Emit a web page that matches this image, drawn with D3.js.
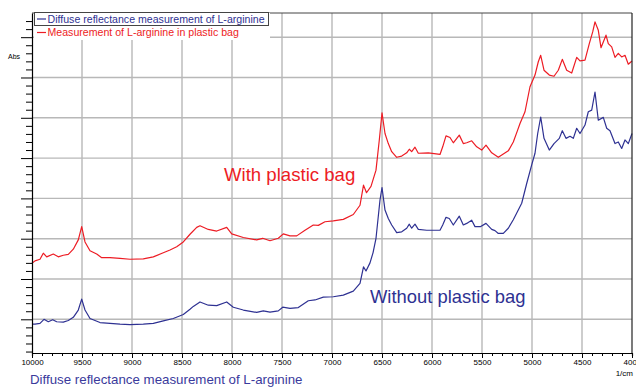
<!DOCTYPE html>
<html>
<head>
<meta charset="utf-8">
<script src="https://cdn.jsdelivr.net/npm/d3@7"></script>
<style>
  html, body { margin: 0; padding: 0; background: #fff; }
  svg { display: block; font-family: "Liberation Sans", Arial, sans-serif; }
</style>
</head>
<body>
<svg id="chart" width="636" height="387"></svg>
<script>
// NIR spectra of L-arginine: [wavenumber (1/cm), absorbance]
const withoutBag = [
  [10000,0.188],[9970,0.188],[9920,0.190],[9880,0.200],[9837,0.194],[9793,0.199],[9753,0.194],
  [9687,0.193],[9637,0.197],[9587,0.205],[9537,0.223],[9503,0.250],[9470,0.223],[9420,0.202],
  [9370,0.197],[9320,0.192],[9220,0.190],[9120,0.188],[9020,0.187],[8887,0.188],[8787,0.190],
  [8687,0.196],[8587,0.202],[8487,0.212],[8420,0.225],[8387,0.232],[8320,0.243],[8237,0.235],
  [8153,0.234],[8053,0.243],[7987,0.230],[7887,0.223],[7753,0.217],[7687,0.221],[7620,0.218],
  [7537,0.221],[7493,0.230],[7420,0.227],[7337,0.229],[7237,0.246],[7170,0.248],[7087,0.255],
  [6987,0.256],[6887,0.260],[6787,0.270],[6720,0.289],[6685,0.330],[6660,0.320],[6620,0.340],
  [6590,0.365],[6560,0.401],[6520,0.496],[6500,0.527],[6470,0.471],[6437,0.450],[6403,0.434],
  [6353,0.415],[6303,0.417],[6253,0.426],[6227,0.436],[6203,0.426],[6170,0.436],[6137,0.423],
  [6053,0.421],[5920,0.421],[5893,0.434],[5860,0.453],[5827,0.450],[5787,0.434],[5727,0.456],
  [5687,0.434],[5653,0.438],[5603,0.446],[5570,0.430],[5513,0.430],[5460,0.438],[5403,0.423],
  [5370,0.420],[5337,0.413],[5287,0.413],[5237,0.426],[5187,0.447],[5150,0.465],[5103,0.488],
  [5053,0.537],[5003,0.583],[4970,0.612],[4943,0.661],[4913,0.702],[4880,0.649],[4827,0.620],
  [4780,0.636],[4727,0.649],[4697,0.668],[4660,0.649],[4620,0.654],[4587,0.649],[4553,0.674],
  [4520,0.661],[4470,0.682],[4437,0.715],[4403,0.719],[4370,0.764],[4337,0.694],[4287,0.701],
  [4253,0.674],[4220,0.668],[4170,0.636],[4137,0.640],[4103,0.624],[4070,0.645],[4037,0.636],
  [4000,0.661]
];

const inPlasticBag = [
  [10000,0.339],[9970,0.345],[9920,0.349],[9887,0.364],[9853,0.355],[9787,0.362],[9737,0.355],
  [9687,0.359],[9637,0.361],[9587,0.374],[9537,0.397],[9503,0.430],[9470,0.392],[9420,0.370],
  [9353,0.362],[9303,0.353],[9220,0.353],[9120,0.351],[9020,0.349],[8887,0.350],[8787,0.355],
  [8687,0.365],[8620,0.372],[8553,0.380],[8487,0.392],[8420,0.411],[8353,0.428],[8320,0.432],
  [8237,0.423],[8153,0.419],[8053,0.428],[8003,0.412],[7887,0.403],[7753,0.397],[7693,0.401],
  [7620,0.395],[7537,0.401],[7487,0.412],[7420,0.407],[7353,0.407],[7270,0.421],[7187,0.434],
  [7137,0.433],[7070,0.442],[6987,0.444],[6887,0.448],[6787,0.460],[6720,0.483],[6685,0.533],
  [6655,0.514],[6610,0.530],[6560,0.570],[6527,0.645],[6500,0.712],[6470,0.661],[6437,0.636],
  [6403,0.616],[6353,0.602],[6303,0.605],[6253,0.613],[6227,0.622],[6203,0.616],[6170,0.627],
  [6137,0.612],[6037,0.613],[5920,0.609],[5893,0.628],[5860,0.655],[5820,0.651],[5787,0.638],
  [5727,0.657],[5687,0.636],[5653,0.638],[5603,0.643],[5553,0.628],[5503,0.620],[5460,0.632],
  [5403,0.613],[5337,0.602],[5287,0.610],[5237,0.618],[5187,0.640],[5150,0.665],[5120,0.686],
  [5070,0.715],[5020,0.777],[4970,0.806],[4937,0.839],[4913,0.855],[4880,0.818],[4827,0.806],
  [4780,0.803],[4737,0.818],[4697,0.845],[4653,0.818],[4603,0.811],[4553,0.850],[4520,0.841],
  [4470,0.843],[4427,0.884],[4393,0.913],[4370,0.938],[4337,0.917],[4310,0.874],[4260,0.905],
  [4237,0.884],[4203,0.876],[4170,0.850],[4137,0.860],[4103,0.851],[4070,0.855],[4037,0.833],
  [4000,0.841]
];

const xMajorTicks = [10000, 9500, 9000, 8500, 8000, 7500, 7000, 6500, 6000, 5500, 5000, 4500, 4000];
const yMajorTicks = [0.2, 0.3, 0.4, 0.5, 0.6, 0.7, 0.8, 0.9];
const legendLabels = ["Diffuse reflectance measurement of L-arginine", "Measurement of L-arginine in plastic bag"];
const seriesColors = ["#2e3192", "#ed1c24"];

const svg = d3.select("#chart");
const plot = { left: 32, right: 632, top: 13, bottom: 353 };

const x = d3.scaleLinear().domain([10000, 4000]).range([plot.left, plot.right]);
const y = d3.scaleLinear().domain([0.1164, 0.96]).range([plot.bottom, plot.top]);

// grid
const grid = svg.append("g").attr("stroke", "#b8b8b8").attr("stroke-width", 1.4);
grid.selectAll("line.v").data(xMajorTicks.slice(1, -1)).join("line")
  .attr("x1", d => x(d)).attr("x2", d => x(d)).attr("y1", plot.top).attr("y2", plot.bottom);
grid.selectAll("line.h").data(yMajorTicks).join("line")
  .attr("x1", plot.left).attr("x2", plot.right).attr("y1", d => y(d)).attr("y2", d => y(d));

// spectra
const line = d3.line().x(d => x(d[0])).y(d => y(d[1]));
[withoutBag, inPlasticBag].forEach((s, i) => {
  svg.append("path").datum(s).attr("d", line)
    .attr("fill", "none").attr("stroke", seriesColors[i])
    .attr("stroke-width", 1.2).attr("stroke-linejoin", "round");
});

// frame (top and right)
svg.append("line").attr("x1", plot.left).attr("x2", plot.right).attr("y1", plot.top).attr("y2", plot.top)
  .attr("stroke", "#444").attr("stroke-width", 1);
svg.append("line").attr("x1", plot.right).attr("x2", plot.right).attr("y1", plot.top).attr("y2", plot.bottom)
  .attr("stroke", "#222").attr("stroke-width", 1.2);

// x axis
const xMinor = d3.range(10000, 3999, -100);
const xAxis = d3.axisBottom(x).tickValues(xMinor).tickSize(3)
  .tickFormat(d => xMajorTicks.includes(d) ? d : "").tickPadding(3);
const gx = svg.append("g").attr("transform", `translate(0,${plot.bottom})`).call(xAxis);
gx.select(".domain").attr("stroke", "#000").attr("stroke-width", 1.2);
gx.selectAll(".tick line").attr("stroke", "#000").attr("y2", d => xMajorTicks.includes(d) ? 5 : 3);
gx.selectAll(".tick text").attr("font-size", 8).attr("fill", "#000")
  .attr("font-family", "'Liberation Sans', Arial, sans-serif");
svg.append("text").attr("x", plot.right + 1).attr("y", 376).attr("text-anchor", "end")
  .attr("font-size", 8).text("1/cm");

// y axis
const yMinor = d3.range(0.12, 0.955, 0.02).map(v => +v.toFixed(2));
const yAxis = d3.axisLeft(y).tickValues(yMinor).tickFormat("")
  .tickSize(6).tickSizeOuter(0);
const gy = svg.append("g").attr("transform", `translate(${plot.left},0)`).call(yAxis);
gy.select(".domain").attr("stroke", "#000").attr("stroke-width", 1.2);
gy.selectAll(".tick line").attr("stroke", "#000")
  .attr("x2", d => yMajorTicks.some(t => Math.abs(t - d) < 1e-6) ? -11 : -6);
svg.append("text").attr("x", 8).attr("y", 59).attr("font-size", 7).text("Abs");

// legend
svg.append("rect").attr("x", 34).attr("y", 13).attr("width", 236).attr("height", 27).attr("fill", "#fff");
svg.append("rect").attr("x", 34.5).attr("y", 12.5).attr("width", 234).attr("height", 13)
  .attr("fill", "none").attr("stroke", "#444").attr("stroke-width", 1);
legendLabels.forEach((lab, i) => {
  const cy = 19 + i * 13.5;
  svg.append("line").attr("x1", 37).attr("x2", 46).attr("y1", cy).attr("y2", cy)
    .attr("stroke", seriesColors[i]).attr("stroke-width", 1.2);
  svg.append("text").attr("x", 47.5).attr("y", cy + 3.7).attr("font-size", 10.6)
    .attr("fill", seriesColors[i]).text(lab);
});

// annotations
svg.append("text").attr("x", 224).attr("y", 181).attr("font-size", 18.6)
  .attr("fill", "#ed1c24").text("With plastic bag");
svg.append("text").attr("x", 370).attr("y", 303).attr("font-size", 18.4)
  .attr("fill", "#2e3192").text("Without plastic bag");

// caption
svg.append("text").attr("x", 30).attr("y", 384).attr("font-size", 13.3)
  .attr("fill", "#3a3a9c").text("Diffuse reflectance measurement of L-arginine");
</script>
</body>
</html>
